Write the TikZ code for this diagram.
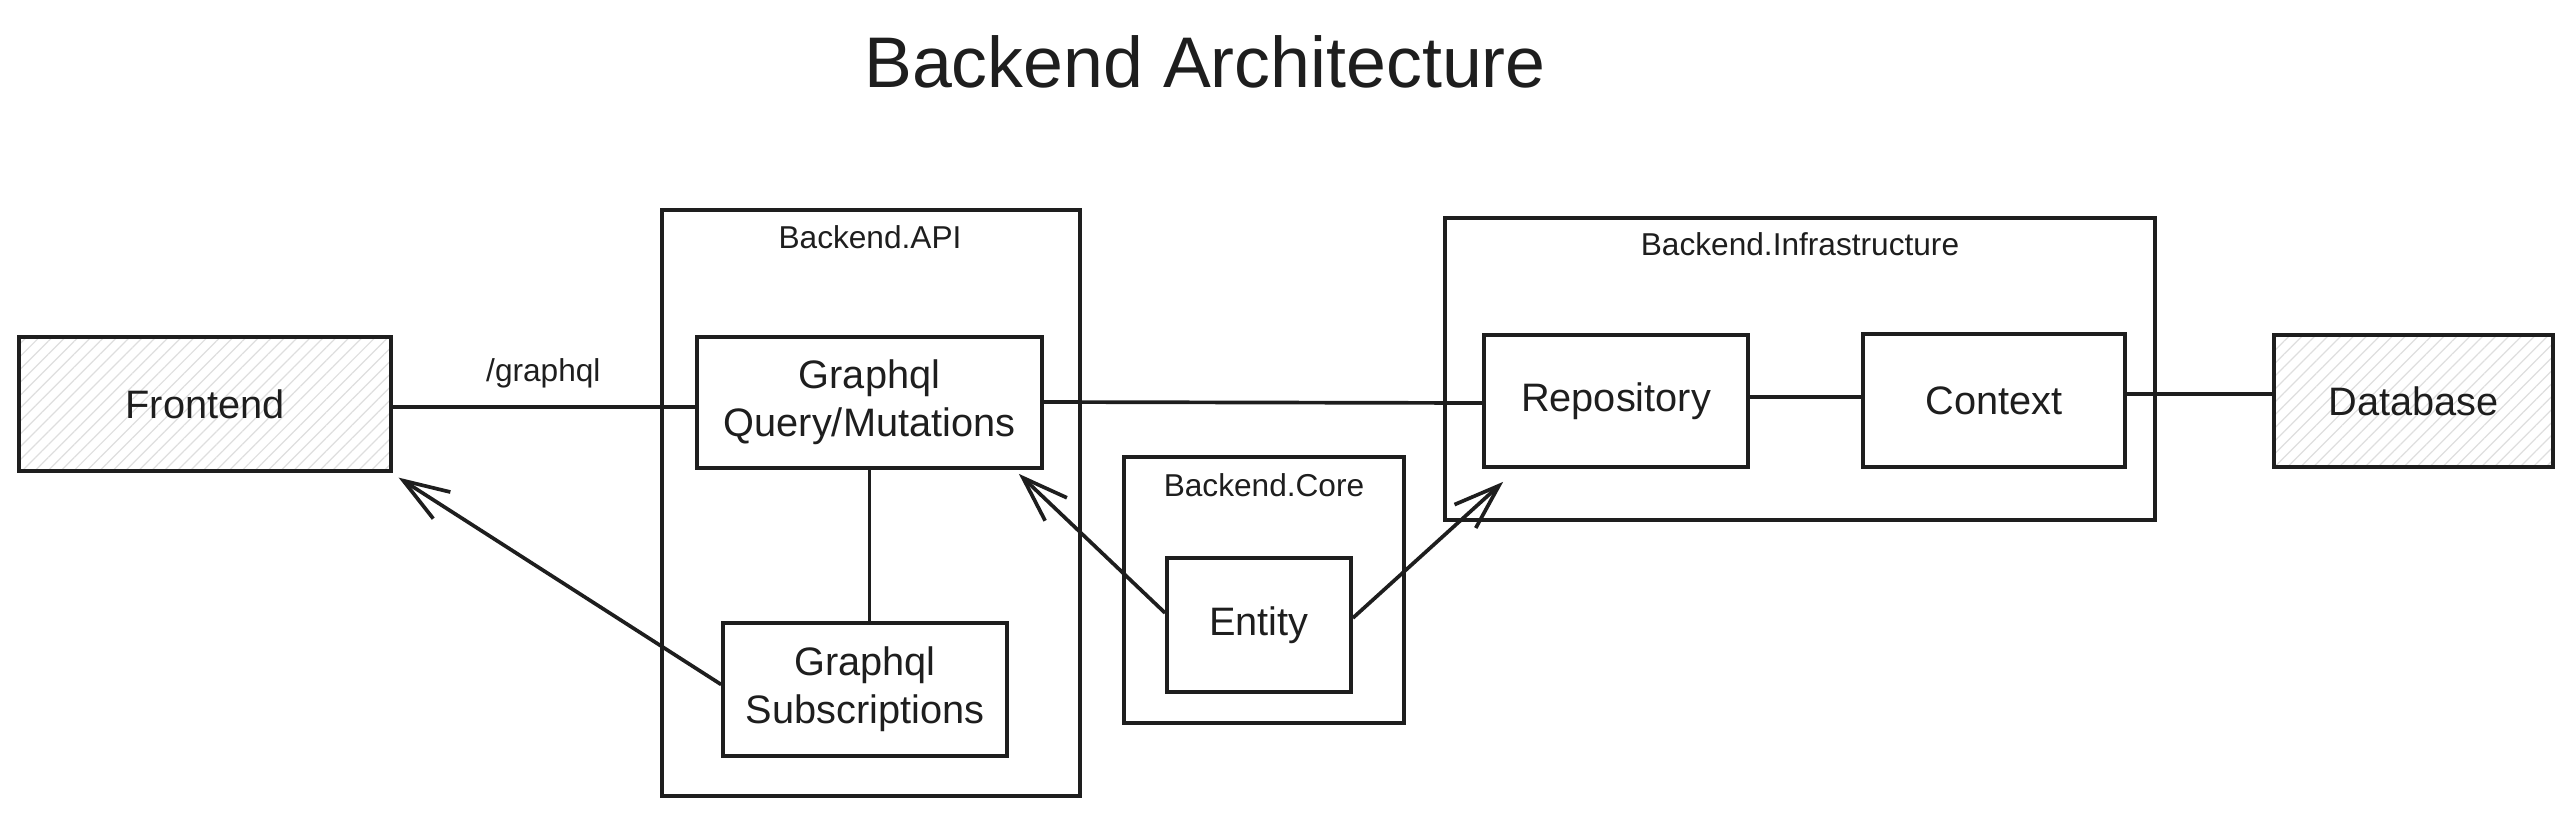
\documentclass[tikz,border=0pt]{standalone}
\usepackage{fontspec}
\setmainfont{Liberation Sans}
\usetikzlibrary{arrows.meta,patterns.meta}
\definecolor{ink}{HTML}{1E1E1E}
\tikzset{
  every node/.style={text=ink},
  box/.style={draw=ink, line width=1.05pt, inner sep=0pt, align=center,
    font=\fontsize{11.3}{13.6}\selectfont},
  hatched/.style={box, pattern={Lines[angle=45,distance=2.6pt,line width=0.35pt]}, pattern color=black!13},
  group/.style={draw=ink, line width=1.05pt, inner sep=0pt},
  grouplabel/.style={font=\fontsize{9}{10}\selectfont, inner sep=0pt},
  conn/.style={draw=ink, line width=1.05pt},
  arr/.style={conn, -{Straight Barb[length=13pt,width=9pt,line width=1.05pt]}},
}
\begin{document}
\begin{tikzpicture}[x=1cm,y=1cm]
\useasboundingbox (0,0) rectangle (25.71,-8.16);
% title
\node[font=\fontsize{20.4}{24}\selectfont, inner sep=0pt] (title) at (12.05,-0.62) {Backend Architecture};
% groups
\node[group, minimum width=4.18cm, minimum height=5.86cm] (api) at (8.71,-5.03) {};
\node[grouplabel] (apilbl) at (8.70,-2.37) {Backend.API};
\node[group, minimum width=2.80cm, minimum height=2.66cm] (core) at (12.64,-5.90) {};
\node[grouplabel] (corelbl) at (12.64,-4.85) {Backend.Core};
\node[group, minimum width=7.10cm, minimum height=3.02cm] (infra) at (18.00,-3.69) {};
\node[grouplabel] (infralbl) at (18.00,-2.44) {Backend.Infrastructure};
% boxes
\node[hatched, minimum width=3.72cm, minimum height=1.34cm] (front) at (2.05,-4.04) {Frontend};
\node[box, fill=white, minimum width=3.45cm, minimum height=1.31cm] (query) at (8.695,-4.025) {Graphql\\Query/Mutations};
\node[box, fill=white, minimum width=2.84cm, minimum height=1.33cm] (subs) at (8.65,-6.895) {Graphql\\Subscriptions};
\node[box, fill=white, minimum width=1.84cm, minimum height=1.34cm] (entity) at (12.59,-6.25) {Entity};
\node[box, fill=white, minimum width=2.64cm, minimum height=1.32cm] (repo) at (16.16,-4.01) {Repository};
\node[box, fill=white, minimum width=2.62cm, minimum height=1.33cm] (ctx) at (19.94,-4.005) {Context};
\node[hatched, minimum width=2.79cm, minimum height=1.32cm] (db) at (24.135,-4.01) {Database};
% connectors
\draw[conn] ([yshift=-0.03cm]front.east) -- node[grouplabel, above=0.17cm] (gqllbl) {/graphql} ([yshift=-0.045cm]query.west);
\draw[conn] ([yshift=0.005cm]query.east) -- ([yshift=-0.02cm]repo.west);
\draw[conn] ([yshift=0.04cm]repo.east) -- ([yshift=0.035cm]ctx.west);
\draw[conn] ([yshift=0.065cm]ctx.east) -- ([yshift=0.07cm]db.west);
\draw[conn] (query.south) -- (query.south |- subs.north);
\draw[arr] ([yshift=0.05cm]subs.west) -- ([shift={(0.07,-0.06)}]front.south east);
\draw[arr] ([yshift=0.12cm]entity.west) -- ([shift={(-0.25,-0.04)}]query.south east);
\draw[arr] ([yshift=0.07cm]entity.east) -- ([shift={(0.21,-0.13)}]repo.south west);
\end{tikzpicture}
\end{document}
